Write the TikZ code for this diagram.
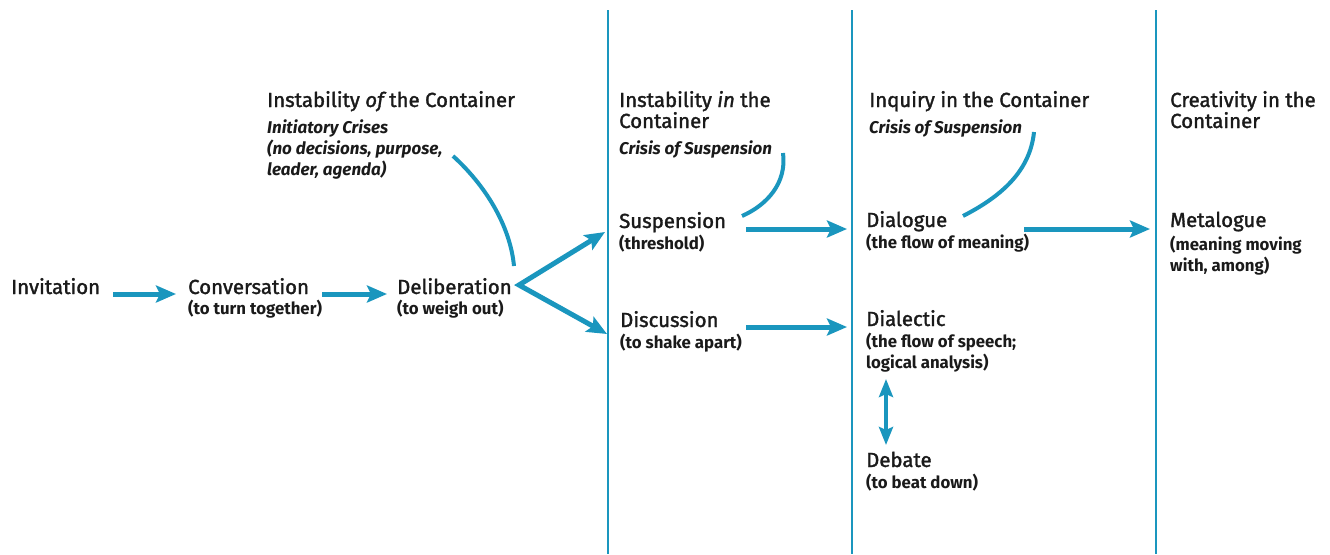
\documentclass[tikz,border=0pt]{standalone}
\usepackage{fontspec}
\setmainfont{Fira Sans}
\newfontfamily\ttlfont{Fira Sans}[FakeBold=1.6,ItalicFeatures={FakeBold=1.6}]
\usetikzlibrary{arrows.meta}
\definecolor{cblue}{HTML}{1A96BE}
\definecolor{ink}{HTML}{1A1A1A}
\begin{document}
\begin{tikzpicture}[x=1pt,y=-1pt,
  ttl/.style={anchor=base west,inner sep=0pt,font=\ttlfont\fontsize{20.4}{22}\selectfont,text=ink},
  sub/.style={anchor=base west,inner sep=0pt,font=\bfseries\fontsize{16.8}{21}\selectfont,text=ink},
  subit/.style={anchor=base west,inner sep=0pt,font=\bfseries\itshape\fontsize{17}{21}\selectfont,text=ink},
  tip/.tip={Stealth[length=20pt,width=17pt,inset=4pt]},
  flow/.style={draw=cblue,line width=5pt,-tip},
  divider/.style={draw=cblue,line width=2pt},
  crisis/.style={draw=cblue,line width=4pt}]
\useasboundingbox (0,0) rectangle (1330,554);
% dividers
\coordinate (d1t) at (608,10); \coordinate (d1b) at (608,554);
\coordinate (d2t) at (852,10); \coordinate (d2b) at (852,554);
\coordinate (d3t) at (1156,10); \coordinate (d3b) at (1156,554);
\draw[divider] (d1t) -- (d1b);
\draw[divider] (d2t) -- (d2b);
\draw[divider] (d3t) -- (d3b);
% left flow
\node[ttl] (inv) at (11,294) {Invitation};
\node[ttl] (conv) at (188,294) {Conversation};
\node[sub] (convs) at (188,314) {(to turn together)};
\node[ttl] (delib) at (397,294) {Deliberation};
\node[sub] (delibs) at (397,314) {(to weigh out)};
% column 1 header
\node[ttl] (h1) at (267,107) {Instability {\itshape of} the Container};
\node[subit] (h1a) at (267,133) {Initiatory Crises};
\node[subit] (h1b) at (267,154) {(no decisions, purpose,};
\node[subit] (h1c) at (267,175) {leader, agenda)};
% column 2
\node[ttl] (h2) at (619,107) {Instability {\itshape in} the};
\node[ttl] (h2b) at (619,128) {Container};
\node[subit] (h2c) at (619,154) {Crisis of Suspension};
\node[ttl] (susp) at (619,228) {Suspension};
\node[sub] (susps) at (619,249) {(threshold)};
\node[ttl] (disc) at (620,327) {Discussion};
\node[sub] (discs) at (620,348) {(to shake apart)};
% column 3
\node[ttl] (h3) at (869,107) {Inquiry in the Container};
\node[subit] (h3c) at (869,133) {Crisis of Suspension};
\node[ttl] (dial) at (866,227) {Dialogue};
\node[sub] (dials) at (866,248) {(the flow of meaning)};
\node[ttl] (dlec) at (866,326) {Dialectic};
\node[sub] (dlecs) at (866,347) {(the flow of speech;};
\node[sub] (dlecs2) at (866,368) {logical analysis)};
\node[ttl] (deb) at (866,467) {Debate};
\node[sub] (debs) at (866,488) {(to beat down)};
% column 4
\node[ttl] (h4) at (1170,107) {Creativity in the};
\node[ttl] (h4b) at (1170,128) {Container};
\node[ttl] (meta) at (1170,227) {Metalogue};
\node[sub] (metas) at (1170,250) {(meaning moving};
\node[sub] (metas2) at (1170,271) {with, among)};
% arrow coordinates
\coordinate (a1s) at (113,294); \coordinate (a1e) at (176,294);
\coordinate (a2s) at (322,294); \coordinate (a2e) at (387,294);
\coordinate (bup) at (605,232); \coordinate (bapex) at (519,285); \coordinate (bdn) at (607,334);
\coordinate (a3s) at (746,229); \coordinate (a3e) at (847,229);
\coordinate (a4s) at (746,327); \coordinate (a4e) at (847,327);
\coordinate (a5s) at (1024,229); \coordinate (a5e) at (1150,229);
\coordinate (a6s) at (886,379); \coordinate (a6e) at (886,445);
\draw[flow] (a1s) -- (a1e);
\draw[flow] (a2s) -- (a2e);
\draw[flow,tip-tip,line join=miter] (bup) -- (bapex) -- (bdn);
\draw[flow] (a3s) -- (a3e);
\draw[flow] (a4s) -- (a4e);
\draw[flow] (a5s) -- (a5e);
\draw[flow,line width=4pt,{Stealth[length=18pt,width=14pt,inset=3pt]}-{Stealth[length=18pt,width=14pt,inset=3pt]}] (a6s) -- (a6e);
% crisis curves
\coordinate (c1s) at (453,156); \coordinate (c1e) at (514,266);
\coordinate (c2s) at (783,153); \coordinate (c2e) at (742,216);
\coordinate (c3s) at (1034,132); \coordinate (c3e) at (963,216);
\draw[crisis] (c1s) .. controls (485,185) and (510,225) .. (c1e);
\draw[crisis] (c2s) .. controls (787,183) and (767,205) .. (c2e);
\draw[crisis] (c3s) .. controls (1030,172) and (1000,197) .. (c3e);
\end{tikzpicture}
\end{document}
